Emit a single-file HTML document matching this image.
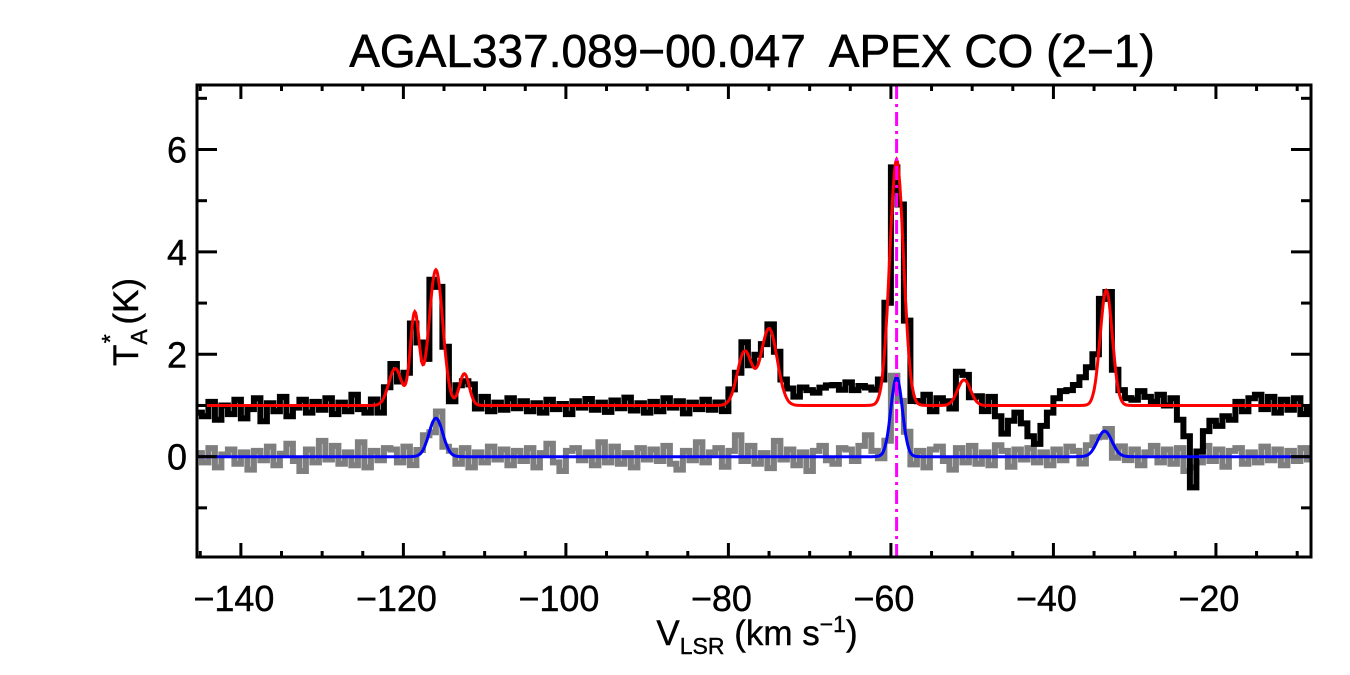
<!DOCTYPE html>
<html><head><meta charset="utf-8">
<style>
html,body{margin:0;padding:0;background:#fff;}
svg{display:block;font-family:"Liberation Sans",Arial,sans-serif;}
</style></head>
<body>
<svg id="chart" width="1350" height="675" viewBox="0 0 1350 675">
  <text x="752" y="67" text-anchor="middle" font-size="46" stroke="#000" stroke-width="0.6" xml:space="preserve">AGAL337.089−00.047  APEX CO (2−1)</text>
  <g id="marks"></g>
  <g id="axes"></g>
  <text x="757" y="645" text-anchor="middle" font-size="35" stroke="#000" stroke-width="0.4">V<tspan font-size="23" dy="9">LSR</tspan><tspan dy="-9"> (km s</tspan><tspan font-size="23" dy="-13">−1</tspan><tspan dy="13">)</tspan></text>
  <g transform="translate(138,322) rotate(-90)">
    <text x="0" y="0" text-anchor="middle" font-size="35" stroke="#000" stroke-width="0.4">T<tspan font-size="23" dy="9">A</tspan><tspan font-size="23" dx="-14" dy="-29">*</tspan><tspan dy="20"> (K)</tspan></text>
  </g>
</svg>
<script>
const xTicks = [-140,-120,-100,-80,-60,-40,-20];
const yTicks = [0,2,4,6];
const channelStart = -145.2;
const channelWidth = 0.8;
const baseline = 1.0;
const redCenters = [-121,-118.6,-116,-112.5,-78,-75,-59.3,-51,-33.5];
const redAmps = [0.72,1.8,2.65,0.62,1.05,1.5,4.8,0.5,2.25];
const redSigmas = [0.8,0.55,0.85,0.6,0.9,1.0,0.85,0.8,0.75];
const blueCenters = [-116,-59.3,-33.7];
const blueAmps = [0.75,1.55,0.5];
const blueSigmas = [0.85,0.7,0.9];
const magentaV = -59.3;
const blackRes = [-10,-15,5,-20,0,-12,8,-18,-5,10,
-22,3,-8,12,-15,-3,8,-10,5,-6,
10,-12,4,-8,15,-5,-10,8,-14,2,
8,-6,10,-8,5,-10,6,-4,12,-8,
5,-10,15,-5,12,-8,4,-6,10,-4,
6,-8,3,-10,8,-5,2,-12,6,-3,
9,-6,4,-9,7,-4,11,-7,3,-10,
5,-8,10,-3,6,-11,4,-5,8,-6,
4,-10,7,-5,12,-4,15,-6,8,10,
15,20,12,25,30,18,35,28,40,22,
45,30,38,25,20,8,-5,10,-8,12,
-10,5,15,-8,10,5,-12,20,8,-5,
10,-8,12,-15,-55,-30,-10,-35,-60,-75,
-40,-10,10,20,30,40,55,70,50,20,
10,-5,15,10,8,20,12,5,15,0,
10,-20,-60,-160,-90,-50,-30,-40,-15,-20,
5,-8,10,15,-5,12,-10,8,-6,10,-12,-4];
const grayNoise = [5,-8,12,-15,3,10,-10,6,-18,8,
-5,14,-12,4,18,-6,-20,10,-8,22,
-4,15,-10,6,-12,20,-15,8,-5,12,
10,-8,14,-12,6,10,-14,15,-6,5,
-10,12,-15,6,-8,14,-4,10,-12,8,
-6,12,-15,5,18,-8,-20,8,12,-5,
6,-12,20,-8,14,-10,5,-15,12,-4,
10,-6,15,-10,-18,8,-5,20,-8,6,
12,-14,8,30,-6,15,-10,5,-16,22,
-4,10,-12,6,-20,8,15,-5,-10,12,
10,-6,15,30,8,-5,-10,12,-8,15,
-12,8,-15,10,14,-6,-18,12,-8,15,
-10,6,-12,16,8,-14,10,-4,12,-8,
6,-12,10,-5,14,8,-10,12,10,-6,
8,-14,12,-5,10,-12,6,15,-8,10,
-10,12,-20,-15,-8,15,-6,10,-14,8,
12,-10,6,-8,14,-5,10,-12,8,-6,12,-4];

const X0=197,X1=1311,Y0=85,Y1=557;
const VMIN=-145.4,VMAX=-8.3,TMIN=-1.96,TMAX=7.26;
const NOISE_GAIN=1.4;
const xs=v=>X0+(v-VMIN)/(VMAX-VMIN)*(X1-X0);
const ys=t=>Y1-(t-TMIN)/(TMAX-TMIN)*(Y1-Y0);
const NS='http://www.w3.org/2000/svg';
const marks=document.getElementById('marks');
const axes=document.getElementById('axes');
function mk(tag,attrs,parent){const e=document.createElementNS(NS,tag);for(const k in attrs)e.setAttribute(k,attrs[k]);parent.appendChild(e);return e;}
function gsum(v,c,a,s){let t=0;for(let i=0;i<c.length;i++)t+=a[i]*Math.exp(-0.5*Math.pow((v-c[i])/s[i],2));return t;}

const clip=mk('clipPath',{id:'pc'},marks);
mk('rect',{x:X0,y:Y0,width:X1-X0,height:Y1-Y0},clip);

function stepPath(vals){
  let d='';
  for(let i=0;i<vals.length;i++){
    const a=channelStart+i*channelWidth-channelWidth/2, b=a+channelWidth;
    const y=ys(vals[i]).toFixed(1);
    d+=(i===0?'M':'L')+xs(a).toFixed(1)+','+y+'L'+xs(b).toFixed(1)+','+y;
  }
  return d;
}
const grayVals=grayNoise.map((n,i)=>{const v=channelStart+i*channelWidth;return gsum(v,blueCenters,blueAmps,blueSigmas)+NOISE_GAIN*n/100;});
const blackVals=blackRes.map((n,i)=>{const v=channelStart+i*channelWidth;return baseline+gsum(v,redCenters,redAmps,redSigmas)+(Math.abs(n)>=30?n:NOISE_GAIN*n)/100;});

const g1=mk('path',{d:stepPath(grayVals),fill:'none',stroke:'#7f7f7f','stroke-width':6,'clip-path':'url(#pc)'},marks);


const b1=mk('path',{d:stepPath(blackVals),fill:'none',stroke:'#000','stroke-width':6,'clip-path':'url(#pc)'},marks);



function curve(c,a,s,off){let d='';for(let v=VMIN;v<=VMAX;v+=0.1){d+=(d?'L':'M')+xs(v).toFixed(1)+','+ys(off+gsum(v,c,a,s)).toFixed(1);}return d;}
const r1=mk('path',{d:curve(redCenters,redAmps,redSigmas,baseline),fill:'none',stroke:'#ff0000','stroke-width':3,'clip-path':'url(#pc)'},marks);


const bl=mk('path',{d:curve(blueCenters,blueAmps,blueSigmas,0),fill:'none',stroke:'#0000ff','stroke-width':3,'clip-path':'url(#pc)'},marks);


const mg=mk('line',{x1:xs(magentaV),x2:xs(magentaV),y1:Y0,y2:Y1,stroke:'#ff00ff','stroke-width':3,'stroke-dasharray':'14,5,3,5'},marks);



const fr=mk('rect',{x:X0,y:Y0,width:X1-X0,height:Y1-Y0,fill:'none',stroke:'#000','stroke-width':3},axes);


for(let v=-145;v<=VMAX;v+=5){
  const major=xTicks.includes(v);const L=major?14:6;const x=xs(v);
  mk('line',{x1:x,x2:x,y1:Y1,y2:Y1-L,stroke:'#000','stroke-width':3},axes);
  mk('line',{x1:x,x2:x,y1:Y0,y2:Y0+L,stroke:'#000','stroke-width':3},axes);
}
xTicks.forEach(v=>{
  const t=mk('text',{x:xs(v)-7,y:611,'text-anchor':'middle','font-size':36,stroke:'#000','stroke-width':0.4},axes);
  t.textContent='−'+Math.abs(v);
  
  
});
for(let t=-1;t<=7;t+=1){
  const major=yTicks.includes(t);const L=major?20:10;const y=ys(t);
  mk('line',{x1:X0,x2:X0+L,y1:y,y2:y,stroke:'#000','stroke-width':3},axes);
  mk('line',{x1:X1,x2:X1-L,y1:y,y2:y,stroke:'#000','stroke-width':3},axes);
}
yTicks.forEach(t=>{
  const e=mk('text',{x:177,y:ys(t)+13,'text-anchor':'middle','font-size':36,stroke:'#000','stroke-width':0.4},axes);
  e.textContent=String(t);
  
  
});
</script>
</body></html>
